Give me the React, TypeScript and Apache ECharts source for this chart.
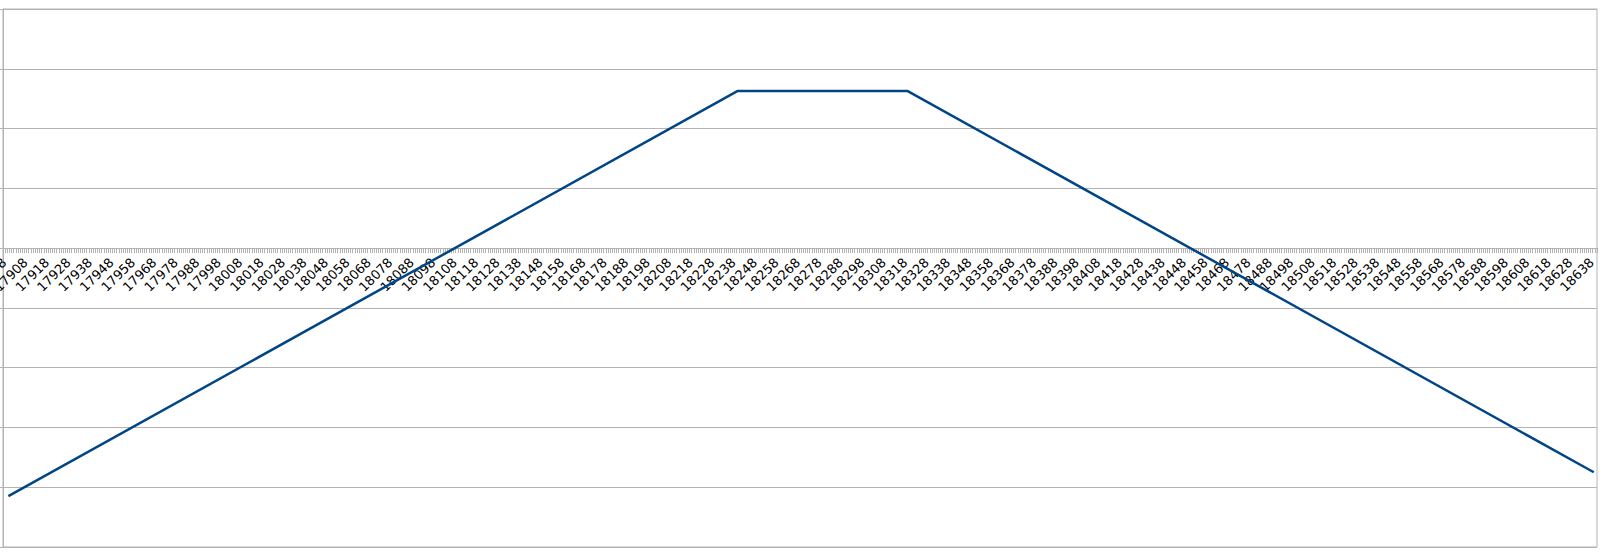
import React, { useEffect, useRef } from "react";
import * as echarts from "echarts";

// Category range (day serials) shown on the x axis
const firstCategory = 17898;
const lastCategory = 18640;
const categories: string[] = [];
for (let d = firstCategory; d <= lastCategory; d++) categories.push(String(d));

// Series breakpoints
const pointCategories = ["17900", "18240", "18319", "18639"];
const pointValues = [-4.15, 2.63, 2.63, -3.75];

const yMin = -5;
const yMax = 4;
const yInterval = 1;

export default function App() {
  const ref = useRef<HTMLDivElement>(null);
  useEffect(() => {
    if (!ref.current) return;
    const chart = echarts.init(ref.current, undefined, { renderer: "svg" });
    const grey = "#b3b3b3";
    const top = 9;
    const bottom = 8;
    const plotH = 555 - top - bottom;
    const zeroFromBottom = (plotH * (0 - yMin)) / (yMax - yMin);
    chart.setOption({
      animation: false,
      backgroundColor: "#ffffff",
      grid: {
        left: 3,
        right: 7,
        top,
        bottom,
        show: true,
        borderColor: grey,
        borderWidth: 1,
        containLabel: false,
        outerBoundsMode: "none",
      },
      xAxis: {
        type: "category",
        data: categories,
        boundaryGap: true,
        position: "bottom",
        offset: -zeroFromBottom,
        axisLine: { show: true, onZero: false, lineStyle: { color: grey, width: 1 } },
        axisTick: { show: true, interval: 0, length: 5, lineStyle: { color: grey, width: 1 } },
        axisLabel: {
          interval: 9,
          rotate: 45,
          color: "#000000",
          fontFamily: "DejaVu Sans",
          fontSize: 13,
          margin: 12,
          hideOverlap: false,
        },
        splitLine: { show: false },
      },
      yAxis: {
        type: "value",
        min: yMin,
        max: yMax,
        interval: yInterval,
        axisLine: { show: true, lineStyle: { color: grey, width: 1 } },
        axisTick: { show: true, length: 3, lineStyle: { color: grey } },
        axisLabel: { show: false },
        splitLine: { show: true, lineStyle: { color: grey, width: 1 } },
      },
      series: [
        {
          type: "line",
          data: pointCategories.map((c, i) => [c, pointValues[i]]),
          symbol: "none",
          lineStyle: { color: "#004586", width: 2.5 },
          itemStyle: { color: "#004586" },
        },
      ],
    });
    return () => chart.dispose();
  }, []);
  return (
    <div
      ref={ref}
      style={{ position: "fixed", left: 0, top: 0, width: 1604, height: 555 }}
    />
  );
}
